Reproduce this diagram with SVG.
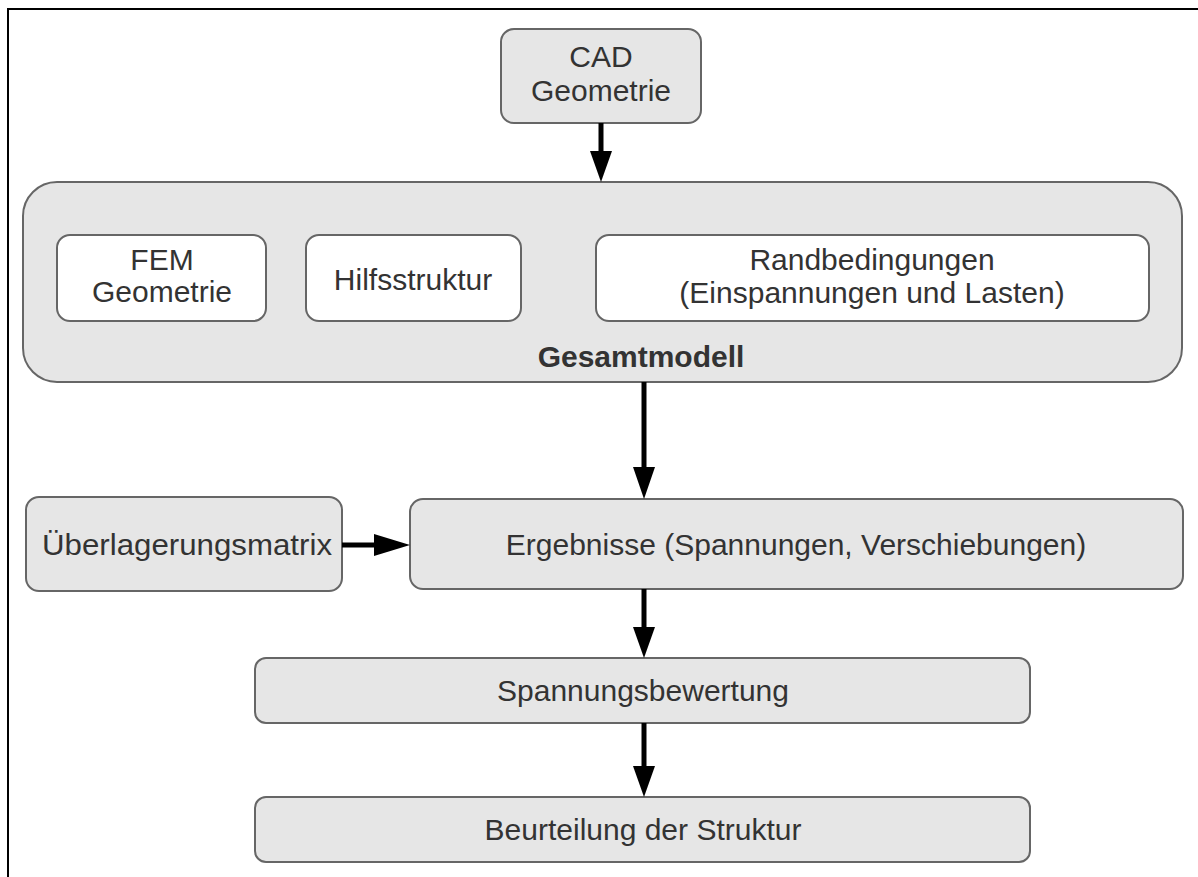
<svg xmlns="http://www.w3.org/2000/svg" width="1198" height="877" viewBox="0 0 1198 877">
<defs>
<style>
.box{fill:#e6e6e6;stroke:#666;stroke-width:2}
.inner{fill:#fff;stroke:#666;stroke-width:2}
text{font-family:"Liberation Sans",Arial,sans-serif;font-size:30px;fill:#333;text-anchor:middle}
.bold{font-weight:bold}
.conn{stroke:#000;stroke-width:5;fill:none}
.head{fill:#000}
</style>
</defs>
<rect width="1198" height="877" fill="#fff"/>
<path d="M8,877 V9 H1198" fill="none" stroke="#000" stroke-width="2"/>
<g id="cad">
<rect class="box" x="501" y="29" width="200" height="94" rx="13"/>
<text x="601" y="67">CAD</text>
<text x="601" y="101">Geometrie</text>
</g>
<g id="gesamtmodell">
<rect class="box" x="23" y="182" width="1159" height="200" rx="34"/>
<text class="bold" x="641" y="367">Gesamtmodell</text>
</g>
<g id="fem">
<rect class="inner" x="57" y="235" width="209" height="86" rx="13"/>
<text x="162" y="270">FEM</text>
<text x="162" y="302">Geometrie</text>
</g>
<g id="hilfsstruktur">
<rect class="inner" x="306" y="235" width="215" height="86" rx="13"/>
<text x="413" y="290">Hilfsstruktur</text>
</g>
<g id="randbedingungen">
<rect class="inner" x="596" y="235" width="553" height="86" rx="13"/>
<text x="872" y="270">Randbedingungen</text>
<text x="872" y="303">(Einspannungen und Lasten)</text>
</g>
<g id="ueberlagerung">
<rect class="box" x="26" y="497" width="316" height="94" rx="13"/>
<text x="187" y="555" textLength="290" lengthAdjust="spacingAndGlyphs">Überlagerungsmatrix</text>
</g>
<g id="ergebnisse">
<rect class="box" x="410" y="499" width="773" height="90" rx="13"/>
<text x="796" y="555">Ergebnisse (Spannungen, Verschiebungen)</text>
</g>
<g id="spannungsbewertung">
<rect class="box" x="255" y="658" width="775" height="65" rx="11"/>
<text x="643" y="701">Spannungsbewertung</text>
</g>
<g id="beurteilung">
<rect class="box" x="255" y="797" width="775" height="65" rx="11"/>
<text x="643" y="840">Beurteilung der Struktur</text>
</g>
<g id="connectors">
<line class="conn" x1="601" y1="123" x2="601" y2="153"/>
<polygon class="head" points="590,151 612,151 601,182"/>
<line class="conn" x1="644" y1="382" x2="644" y2="469"/>
<polygon class="head" points="633,467 655,467 644,499"/>
<line class="conn" x1="342" y1="545" x2="376" y2="545"/>
<polygon class="head" points="374,534 374,556 410,545"/>
<line class="conn" x1="644" y1="589" x2="644" y2="629"/>
<polygon class="head" points="633,627 655,627 644,658"/>
<line class="conn" x1="644" y1="723" x2="644" y2="768"/>
<polygon class="head" points="633,766 655,766 644,797"/>
</g>
</svg>
